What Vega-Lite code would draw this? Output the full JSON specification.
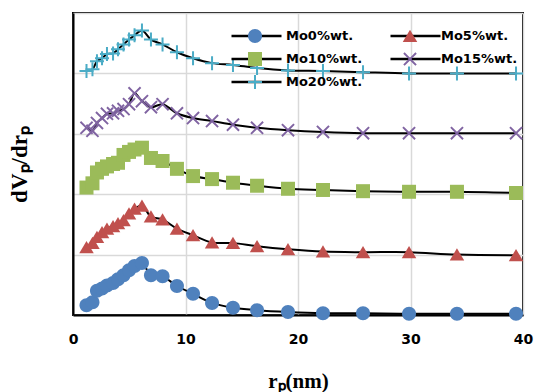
{
  "$schema": "https://vega.github.io/schema/vega-lite/v6.json",
  "width": 450,
  "height": 302,
  "autosize": {"type": "none"},
  "padding": {"left": 73, "top": 13, "right": 11, "bottom": 77},
  "background": "white",
  "config": {"view": {"stroke": "black", "strokeWidth": 2}, "font": "DejaVu Sans"},
  "datasets": {
    "pts": [
      {"series": "Mo0%wt.", "r": 1.2, "v": 0.16}, {"series": "Mo0%wt.", "r": 1.73, "v": 0.21}, {"series": "Mo0%wt.", "r": 2.13, "v": 0.40}, {"series": "Mo0%wt.", "r": 2.58, "v": 0.44}, {"series": "Mo0%wt.", "r": 3.02, "v": 0.49}, {"series": "Mo0%wt.", "r": 3.56, "v": 0.53}, {"series": "Mo0%wt.", "r": 4.0, "v": 0.59}, {"series": "Mo0%wt.", "r": 4.49, "v": 0.66}, {"series": "Mo0%wt.", "r": 4.98, "v": 0.74}, {"series": "Mo0%wt.", "r": 5.47, "v": 0.81}, {"series": "Mo0%wt.", "r": 6.13, "v": 0.86}, {"series": "Mo0%wt.", "r": 6.93, "v": 0.66}, {"series": "Mo0%wt.", "r": 7.96, "v": 0.64}, {"series": "Mo0%wt.", "r": 9.24, "v": 0.48}, {"series": "Mo0%wt.", "r": 10.67, "v": 0.35}, {"series": "Mo0%wt.", "r": 12.36, "v": 0.20}, {"series": "Mo0%wt.", "r": 14.22, "v": 0.12}, {"series": "Mo0%wt.", "r": 16.36, "v": 0.08}, {"series": "Mo0%wt.", "r": 19.11, "v": 0.05}, {"series": "Mo0%wt.", "r": 22.22, "v": 0.03}, {"series": "Mo0%wt.", "r": 25.78, "v": 0.03}, {"series": "Mo0%wt.", "r": 29.87, "v": 0.02}, {"series": "Mo0%wt.", "r": 34.13, "v": 0.02}, {"series": "Mo0%wt.", "r": 39.38, "v": 0.02},
      {"series": "Mo5%wt.", "r": 1.2, "v": 1.12}, {"series": "Mo5%wt.", "r": 1.73, "v": 1.19}, {"series": "Mo5%wt.", "r": 2.13, "v": 1.29}, {"series": "Mo5%wt.", "r": 2.58, "v": 1.37}, {"series": "Mo5%wt.", "r": 3.02, "v": 1.43}, {"series": "Mo5%wt.", "r": 3.56, "v": 1.47}, {"series": "Mo5%wt.", "r": 4.0, "v": 1.52}, {"series": "Mo5%wt.", "r": 4.49, "v": 1.57}, {"series": "Mo5%wt.", "r": 4.98, "v": 1.68}, {"series": "Mo5%wt.", "r": 5.47, "v": 1.76}, {"series": "Mo5%wt.", "r": 6.13, "v": 1.81}, {"series": "Mo5%wt.", "r": 6.93, "v": 1.63}, {"series": "Mo5%wt.", "r": 7.96, "v": 1.58}, {"series": "Mo5%wt.", "r": 9.24, "v": 1.43}, {"series": "Mo5%wt.", "r": 10.67, "v": 1.32}, {"series": "Mo5%wt.", "r": 12.36, "v": 1.20}, {"series": "Mo5%wt.", "r": 14.22, "v": 1.19}, {"series": "Mo5%wt.", "r": 16.36, "v": 1.14}, {"series": "Mo5%wt.", "r": 19.11, "v": 1.09}, {"series": "Mo5%wt.", "r": 22.22, "v": 1.05}, {"series": "Mo5%wt.", "r": 25.78, "v": 1.04}, {"series": "Mo5%wt.", "r": 29.87, "v": 1.04}, {"series": "Mo5%wt.", "r": 34.13, "v": 1.00}, {"series": "Mo5%wt.", "r": 39.38, "v": 0.99},
      {"series": "Mo10%wt.", "r": 1.2, "v": 2.11}, {"series": "Mo10%wt.", "r": 1.73, "v": 2.18}, {"series": "Mo10%wt.", "r": 2.13, "v": 2.36}, {"series": "Mo10%wt.", "r": 2.58, "v": 2.42}, {"series": "Mo10%wt.", "r": 3.02, "v": 2.46}, {"series": "Mo10%wt.", "r": 3.56, "v": 2.50}, {"series": "Mo10%wt.", "r": 4.0, "v": 2.52}, {"series": "Mo10%wt.", "r": 4.49, "v": 2.65}, {"series": "Mo10%wt.", "r": 4.98, "v": 2.70}, {"series": "Mo10%wt.", "r": 5.47, "v": 2.74}, {"series": "Mo10%wt.", "r": 6.13, "v": 2.77}, {"series": "Mo10%wt.", "r": 6.93, "v": 2.60}, {"series": "Mo10%wt.", "r": 7.96, "v": 2.55}, {"series": "Mo10%wt.", "r": 9.24, "v": 2.42}, {"series": "Mo10%wt.", "r": 10.67, "v": 2.30}, {"series": "Mo10%wt.", "r": 12.36, "v": 2.25}, {"series": "Mo10%wt.", "r": 14.22, "v": 2.19}, {"series": "Mo10%wt.", "r": 16.36, "v": 2.14}, {"series": "Mo10%wt.", "r": 19.11, "v": 2.09}, {"series": "Mo10%wt.", "r": 22.22, "v": 2.07}, {"series": "Mo10%wt.", "r": 25.78, "v": 2.05}, {"series": "Mo10%wt.", "r": 29.87, "v": 2.04}, {"series": "Mo10%wt.", "r": 34.13, "v": 2.04}, {"series": "Mo10%wt.", "r": 39.38, "v": 2.02},
      {"series": "Mo15%wt.", "r": 1.2, "v": 3.10}, {"series": "Mo15%wt.", "r": 1.73, "v": 3.05}, {"series": "Mo15%wt.", "r": 2.13, "v": 3.18}, {"series": "Mo15%wt.", "r": 2.58, "v": 3.26}, {"series": "Mo15%wt.", "r": 3.02, "v": 3.33}, {"series": "Mo15%wt.", "r": 3.56, "v": 3.34}, {"series": "Mo15%wt.", "r": 4.0, "v": 3.38}, {"series": "Mo15%wt.", "r": 4.49, "v": 3.41}, {"series": "Mo15%wt.", "r": 4.98, "v": 3.49}, {"series": "Mo15%wt.", "r": 5.47, "v": 3.67}, {"series": "Mo15%wt.", "r": 6.13, "v": 3.54}, {"series": "Mo15%wt.", "r": 6.93, "v": 3.44}, {"series": "Mo15%wt.", "r": 7.96, "v": 3.49}, {"series": "Mo15%wt.", "r": 9.24, "v": 3.34}, {"series": "Mo15%wt.", "r": 10.67, "v": 3.26}, {"series": "Mo15%wt.", "r": 12.36, "v": 3.21}, {"series": "Mo15%wt.", "r": 14.22, "v": 3.15}, {"series": "Mo15%wt.", "r": 16.36, "v": 3.10}, {"series": "Mo15%wt.", "r": 19.11, "v": 3.06}, {"series": "Mo15%wt.", "r": 22.22, "v": 3.03}, {"series": "Mo15%wt.", "r": 25.78, "v": 3.01}, {"series": "Mo15%wt.", "r": 29.87, "v": 3.01}, {"series": "Mo15%wt.", "r": 34.13, "v": 3.01}, {"series": "Mo15%wt.", "r": 39.38, "v": 3.01},
      {"series": "Mo20%wt.", "r": 1.2, "v": 4.04}, {"series": "Mo20%wt.", "r": 1.73, "v": 4.07}, {"series": "Mo20%wt.", "r": 2.13, "v": 4.20}, {"series": "Mo20%wt.", "r": 2.58, "v": 4.25}, {"series": "Mo20%wt.", "r": 3.02, "v": 4.32}, {"series": "Mo20%wt.", "r": 3.56, "v": 4.33}, {"series": "Mo20%wt.", "r": 4.0, "v": 4.40}, {"series": "Mo20%wt.", "r": 4.49, "v": 4.48}, {"series": "Mo20%wt.", "r": 4.98, "v": 4.56}, {"series": "Mo20%wt.", "r": 5.47, "v": 4.63}, {"series": "Mo20%wt.", "r": 6.13, "v": 4.71}, {"series": "Mo20%wt.", "r": 6.93, "v": 4.56}, {"series": "Mo20%wt.", "r": 7.96, "v": 4.48}, {"series": "Mo20%wt.", "r": 9.24, "v": 4.35}, {"series": "Mo20%wt.", "r": 10.67, "v": 4.25}, {"series": "Mo20%wt.", "r": 12.36, "v": 4.17}, {"series": "Mo20%wt.", "r": 14.22, "v": 4.14}, {"series": "Mo20%wt.", "r": 16.36, "v": 4.09}, {"series": "Mo20%wt.", "r": 19.11, "v": 4.05}, {"series": "Mo20%wt.", "r": 22.22, "v": 4.04}, {"series": "Mo20%wt.", "r": 25.78, "v": 4.02}, {"series": "Mo20%wt.", "r": 29.87, "v": 4.00}, {"series": "Mo20%wt.", "r": 34.13, "v": 4.00}, {"series": "Mo20%wt.", "r": 39.38, "v": 4.00}
    ]
  },
  "data": {"name": "pts"},
  "encoding": {
    "x": {
      "field": "r", "type": "quantitative",
      "scale": {"domain": [0, 40], "nice": false},
      "axis": {
        "title": "rₚ(nm)", "values": [0, 10, 20, 30, 40],
        "grid": true, "gridColor": "#D9D9D9", "gridWidth": 1.5,
        "ticks": false, "domain": true, "domainColor": "black", "domainWidth": 2,
        "labelFont": "DejaVu Sans", "labelFontWeight": "bold", "labelFontSize": 14, "labelColor": "black", "labelPadding": 17, "labelFlush": false,
        "titleFont": "Liberation Serif", "titleFontWeight": "bold", "titleFontSize": 21, "titleColor": "black", "titlePadding": 24
      }
    },
    "y": {
      "field": "v", "type": "quantitative",
      "scale": {"domain": [0, 5], "nice": false},
      "axis": {
        "title": "dVₚ/drₚ", "values": [0, 1, 2, 3, 4, 5],
        "grid": true, "gridColor": "#D9D9D9", "gridWidth": 1.5,
        "ticks": false, "labels": false, "domain": true, "domainColor": "black", "domainWidth": 2,
        "titleFont": "Liberation Serif", "titleFontWeight": "bold", "titleFontSize": 23, "titleColor": "black", "titlePadding": 42
      }
    }
  },
  "layer": [
    {
      "mark": {"type": "line", "interpolate": "catmull-rom", "strokeWidth": 2},
      "encoding": {
        "stroke": {
          "field": "series", "type": "nominal",
          "sort": ["Mo0%wt.", "Mo5%wt.", "Mo10%wt.", "Mo15%wt.", "Mo20%wt."],
          "scale": {"range": ["black", "black", "black", "black", "black"]},
          "legend": {
            "title": null, "orient": "none", "legendX": 157, "legendY": 11.5, "direction": "horizontal", "columns": 2,
            "symbolType": "stroke", "symbolSize": 2500, "symbolStrokeWidth": 2.5, "clipHeight": 23, "rowPadding": 0, "columnPadding": 100,
            "labelExpr": "''", "labelFontSize": 13, "labelOffset": 6, "padding": 0, "zindex": 1
          }
        }
      }
    },
    {
      "mark": {"type": "point", "filled": true, "size": 2500, "opacity": 1, "strokeWidth": 0},
      "encoding": {
        "fill": {
          "field": "series", "type": "nominal",
          "scale": {"domain": ["Mo0%wt.", "Mo5%wt.", "Mo10%wt.", "Mo15%wt.", "Mo20%wt."], "range": ["#4F81BD", "#C0504D", "#9BBB59", "#8064A2", "#4BACC6"]},
          "legend": {
            "title": null, "orient": "none", "legendX": 157, "legendY": 11.5, "direction": "horizontal", "columns": 2,
            "symbolSize": 2500, "symbolStrokeWidth": 0, "clipHeight": 23, "rowPadding": 0, "columnPadding": 22,
            "labelFont": "DejaVu Sans", "labelFontWeight": "bold", "labelFontSize": 13, "labelColor": "black", "labelOffset": 6, "padding": 0, "zindex": 2
          }
        },
        "shape": {
          "field": "series", "type": "nominal",
          "scale": {
            "domain": ["Mo0%wt.", "Mo5%wt.", "Mo10%wt.", "Mo15%wt.", "Mo20%wt."],
            "range": [
              "M-0.28,0A0.28,0.28,0,1,1,0.28,0A0.28,0.28,0,1,1,-0.28,0Z",
              "M0,-0.25L0.29,0.24L-0.29,0.24Z",
              "M-0.28,-0.28L0.28,-0.28L0.28,0.28L-0.28,0.28Z",
              "M-0.27,-0.215L-0.215,-0.27L0,-0.055L0.215,-0.27L0.27,-0.215L0.055,0L0.27,0.215L0.215,0.27L0,0.055L-0.215,0.27L-0.27,0.215L-0.055,0Z",
              "M-0.04,-0.28L0.04,-0.28L0.04,-0.04L0.28,-0.04L0.28,0.04L0.04,0.04L0.04,0.28L-0.04,0.28L-0.04,0.04L-0.28,0.04L-0.28,-0.04L-0.04,-0.04Z"
            ]
          }
        }
      }
    }
  ]
}
